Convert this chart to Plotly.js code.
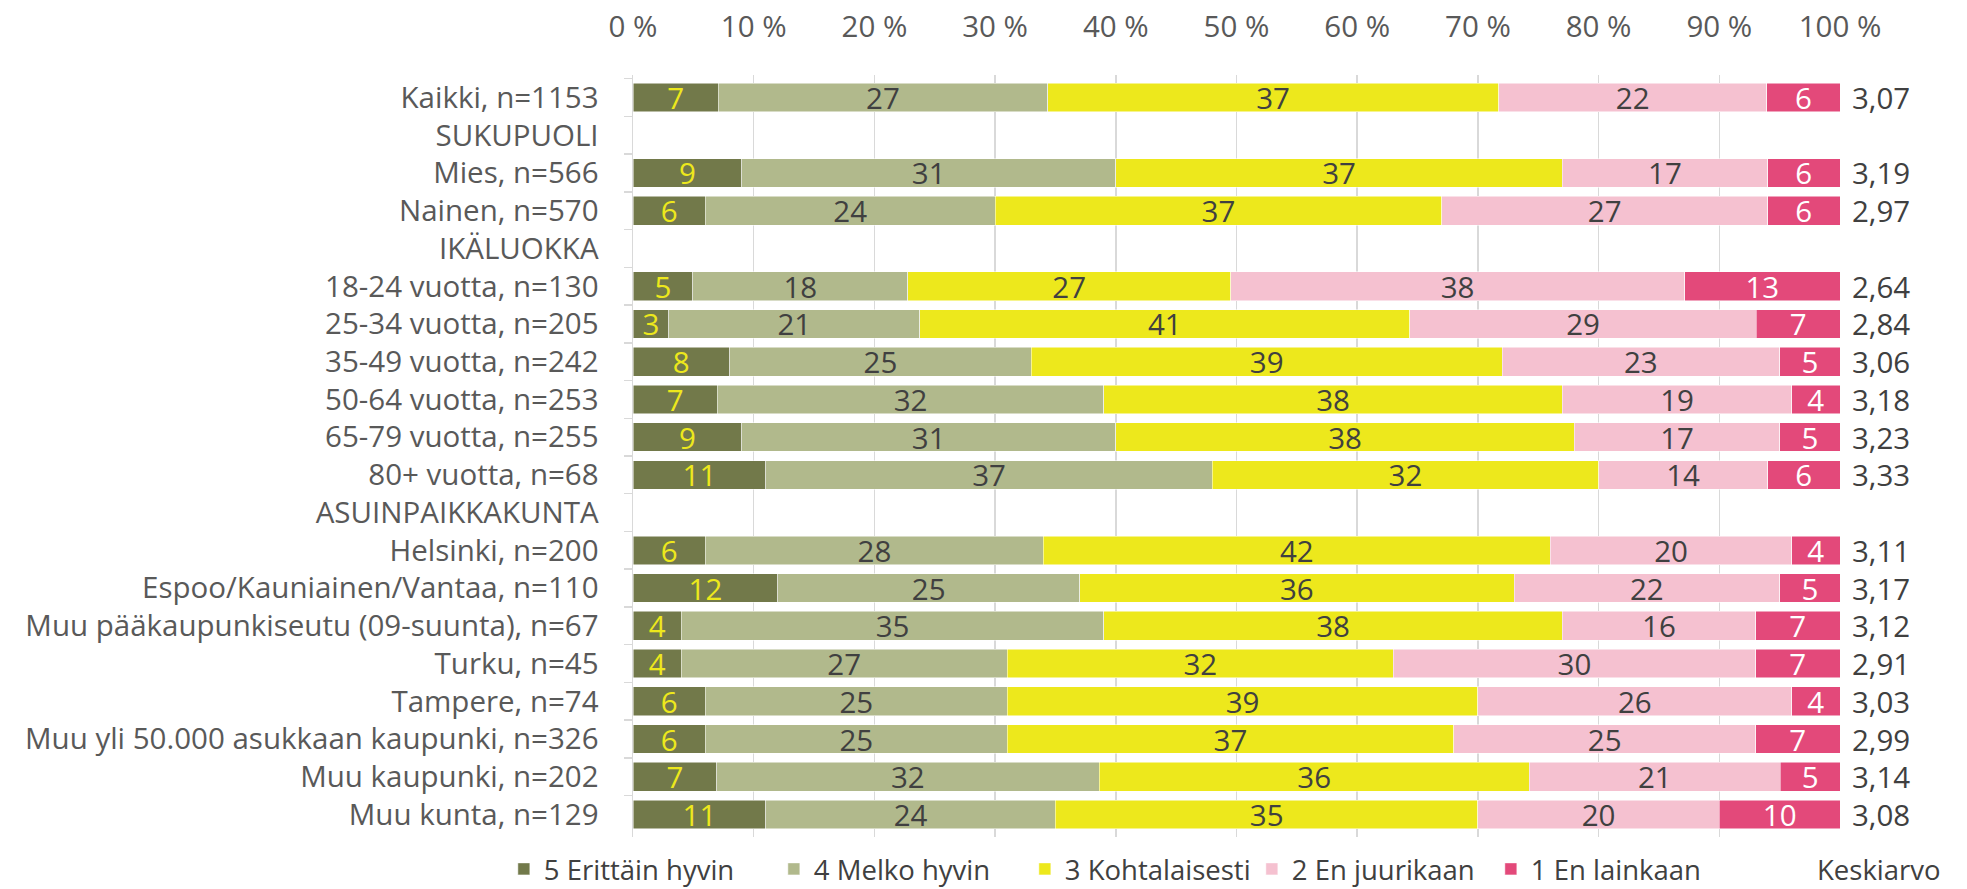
<!DOCTYPE html>
<html>
<head>
<meta charset="utf-8">
<script src="https://cdn.plot.ly/plotly-3.0.1.min.js"></script>
<style>
  html, body { margin: 0; padding: 0; background: #ffffff; }
  #chart { width: 1967px; height: 889px; }
</style>
</head>
<body>
<div id="chart"></div>
<script>
// Row labels (group headers are rows without bars)
const categories = [
  "Kaikki, n=1153",
  "SUKUPUOLI",
  "Mies, n=566",
  "Nainen, n=570",
  "IKÄLUOKKA",
  "18-24 vuotta, n=130",
  "25-34 vuotta, n=205",
  "35-49 vuotta, n=242",
  "50-64 vuotta, n=253",
  "65-79 vuotta, n=255",
  "80+ vuotta, n=68",
  "ASUINPAIKKAKUNTA",
  "Helsinki, n=200",
  "Espoo/Kauniainen/Vantaa, n=110",
  "Muu pääkaupunkiseutu (09-suunta), n=67",
  "Turku, n=45",
  "Tampere, n=74",
  "Muu yli 50.000 asukkaan kaupunki, n=326",
  "Muu kaupunki, n=202",
  "Muu kunta, n=129"
];

// Shares (%) per answer option, in row order
const erittainHyvin = [7, null, 9, 6, null, 5, 3, 8, 7, 9, 11, null, 6, 12, 4, 4, 6, 6, 7, 11];
const melkoHyvin    = [27, null, 31, 24, null, 18, 21, 25, 32, 31, 37, null, 28, 25, 35, 27, 25, 25, 32, 24];
const kohtalaisesti = [37, null, 37, 37, null, 27, 41, 39, 38, 38, 32, null, 42, 36, 38, 32, 39, 37, 36, 35];
const enJuurikaan   = [22, null, 17, 27, null, 38, 29, 23, 19, 17, 14, null, 20, 22, 16, 30, 26, 25, 21, 20];
const enLainkaan    = [6, null, 6, 6, null, 13, 7, 5, 4, 5, 6, null, 4, 5, 7, 7, 4, 7, 5, 10];

// Mean score per row
const keskiarvo = ["3,07", "", "3,19", "2,97", "", "2,64", "2,84", "3,06", "3,18", "3,23", "3,33", "",
                   "3,11", "3,17", "3,12", "2,91", "3,03", "2,99", "3,14", "3,08"];

const seriesNames = ["5 Erittäin hyvin", "4 Melko hyvin", "3 Kohtalaisesti", "2 En juurikaan", "1 En lainkaan"];
const xTicks = [0, 10, 20, 30, 40, 50, 60, 70, 80, 90, 100];

const FONT = "'Open Sans', Lato, sans-serif";
const FS = 29.5;
const seriesValues = [erittainHyvin, melkoHyvin, kohtalaisesti, enJuurikaan, enLainkaan];
const seriesColors = ["#72794a", "#b1b98c", "#ede81c", "#f5c1d0", "#e3497a"];
const textColors   = ["#ede81c", "#404040", "#404040", "#404040", "#ffffff"];
const legendWidths = [225, 206, 182, 194, 180];

const traces = seriesValues.map((vals, i) => ({
  type: "bar",
  orientation: "h",
  name: seriesNames[i],
  y: categories,
  x: vals,
  text: vals.map(v => (v === null ? "" : String(v))),
  texttemplate: "%{text}",
  textposition: "inside",
  insidetextanchor: "middle",
  textangle: 0,
  constraintext: "none",
  textfont: { family: FONT, size: FS, color: textColors[i] },
  marker: { color: seriesColors[i], line: { color: "#ffffff", width: 0.5 } },
  legendwidth: legendWidths[i],
  hoverinfo: "skip"
}));

const annotations = categories.map((c, i) => ({
  xref: "paper", yref: "y",
  x: 1, y: c,
  xanchor: "left", yanchor: "middle",
  xshift: 10,
  text: keskiarvo[i],
  showarrow: false,
  font: { family: FONT, size: FS, color: "#404040" }
})).filter(a => a.text !== "");

annotations.push({
  xref: "paper", yref: "paper",
  x: 0.979, y: -0.042,
  xanchor: "left", yanchor: "middle",
  text: "Keskiarvo",
  showarrow: false,
  font: { family: FONT, size: 27.5, color: "#404040" }
});

const layout = {
  width: 1967,
  height: 889,
  margin: { l: 633, r: 127, t: 75, b: 52, autoexpand: false },
  paper_bgcolor: "#ffffff",
  plot_bgcolor: "#ffffff",
  barmode: "stack",
  barnorm: "percent",
  bargap: 0.24,
  font: { family: FONT, size: FS, color: "#595959" },
  xaxis: {
    side: "top",
    range: [0, 100],
    tickvals: xTicks,
    ticktext: xTicks.map(v => v + " %"),
    showgrid: true,
    gridcolor: "#d9d9d9",
    gridwidth: 1.5,
    zeroline: false,
    showline: false,
    ticks: "",
    ticklabelstandoff: 31,
    tickfont: { family: FONT, size: FS, color: "#595959" },
    fixedrange: true
  },
  yaxis: {
    type: "category",
    autorange: "reversed",
    showline: true,
    linecolor: "#d9d9d9",
    linewidth: 1.5,
    ticks: "outside",
    tickson: "boundaries",
    ticklen: 8,
    tickcolor: "#d9d9d9",
    tickwidth: 1.5,
    ticklabelstandoff: 27,
    showgrid: false,
    tickfont: { family: FONT, size: FS, color: "#595959" },
    fixedrange: true
  },
  legend: {
    orientation: "h",
    x: -0.107, xanchor: "left",
    y: -0.042, yanchor: "middle",
    font: { family: FONT, size: 27.5, color: "#404040" },
    traceorder: "normal",
    itemclick: false,
    itemdoubleclick: false
  },
  showlegend: true,
  annotations: annotations
};

Plotly.newPlot("chart", traces, layout, { displayModeBar: false, staticPlot: true });
</script>
</body>
</html>
